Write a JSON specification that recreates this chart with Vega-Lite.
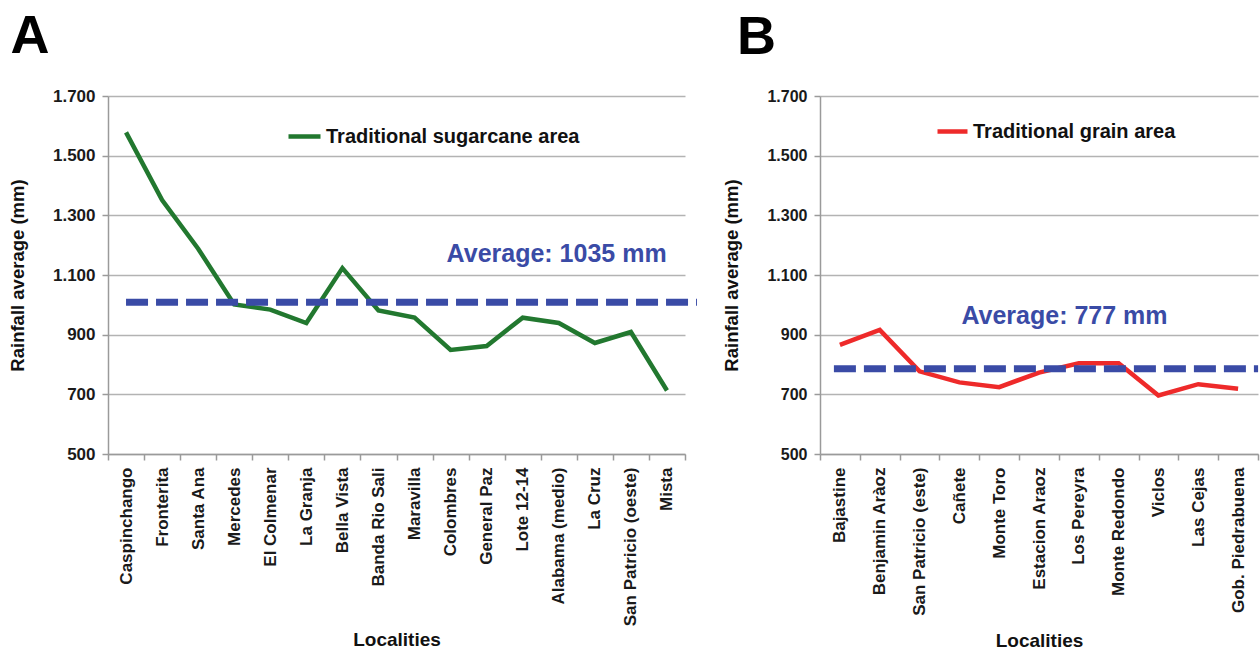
{
  "$schema": "https://vega.github.io/schema/vega-lite/v6.json",
  "padding": {"left": 8, "top": 10, "right": 0, "bottom": 0},
  "background": "white",
  "bounds": "flush",
  "spacing": 135,
  "datasets": {
    "sugar": [
      {"loc": "Caspinchango", "rain": 1578, "series": "Traditional sugarcane area"},
      {"loc": "Fronterita", "rain": 1351, "series": "Traditional sugarcane area"},
      {"loc": "Santa Ana", "rain": 1188, "series": "Traditional sugarcane area"},
      {"loc": "Mercedes", "rain": 1001, "series": "Traditional sugarcane area"},
      {"loc": "El Colmenar", "rain": 984, "series": "Traditional sugarcane area"},
      {"loc": "La Granja", "rain": 939, "series": "Traditional sugarcane area"},
      {"loc": "Bella Vista", "rain": 1123, "series": "Traditional sugarcane area"},
      {"loc": "Banda Rio Sali", "rain": 981, "series": "Traditional sugarcane area"},
      {"loc": "Maravilla", "rain": 957, "series": "Traditional sugarcane area"},
      {"loc": "Colombres", "rain": 849, "series": "Traditional sugarcane area"},
      {"loc": "General Paz", "rain": 862, "series": "Traditional sugarcane area"},
      {"loc": "Lote 12-14", "rain": 957, "series": "Traditional sugarcane area"},
      {"loc": "Alabama (medio)", "rain": 939, "series": "Traditional sugarcane area"},
      {"loc": "La Cruz", "rain": 872, "series": "Traditional sugarcane area"},
      {"loc": "San Patricio (oeste)", "rain": 909, "series": "Traditional sugarcane area"},
      {"loc": "Mista", "rain": 713, "series": "Traditional sugarcane area"}
    ],
    "grain": [
      {"loc": "Bajastine", "rain": 866, "series": "Traditional grain area"},
      {"loc": "Benjamin Aràoz", "rain": 916, "series": "Traditional grain area"},
      {"loc": "San Patricio (este)", "rain": 777, "series": "Traditional grain area"},
      {"loc": "Cañete", "rain": 740, "series": "Traditional grain area"},
      {"loc": "Monte Toro", "rain": 724, "series": "Traditional grain area"},
      {"loc": "Estacion Araoz", "rain": 773, "series": "Traditional grain area"},
      {"loc": "Los Pereyra", "rain": 804, "series": "Traditional grain area"},
      {"loc": "Monte Redondo", "rain": 804, "series": "Traditional grain area"},
      {"loc": "Viclos", "rain": 696, "series": "Traditional grain area"},
      {"loc": "Las Cejas", "rain": 734, "series": "Traditional grain area"},
      {"loc": "Gob. Piedrabuena", "rain": 719, "series": "Traditional grain area"}
    ],
    "avgA": [{"start": "Caspinchango", "end": "Mista", "avg": 1009, "label": "Average: 1035 mm", "pos": "Alabama (medio)", "ty": 1172}],
    "avgB": [{"start": "Bajastine", "end": "Gob. Piedrabuena", "avg": 786, "label": "Average: 777 mm", "pos": "Los Pereyra", "ty": 963}]
  },
  "config": {
    "font": "Liberation Sans",
    "view": {"stroke": null},
    "axisY": {
      "grid": true, "gridColor": "#b3b3b3", "gridWidth": 1.5,
      "domainColor": "#9a9a9a", "domainWidth": 1.5,
      "tickColor": "#9a9a9a", "tickSize": 6, "tickWidth": 1.5,
      "labelFontSize": 17, "labelFontWeight": "bold", "labelColor": "#1a1a1a", "labelPadding": 7,
      "titleFontSize": 18.5, "titleFontWeight": "bold", "titleColor": "#111111", "titlePadding": 25
    },
    "axisX": {
      "grid": false, "labelAngle": -90, "tickBand": "extent",
      "domainColor": "#9a9a9a", "domainWidth": 1.5,
      "tickColor": "#9a9a9a", "tickSize": 6, "tickWidth": 1.5,
      "labelFontSize": 17, "labelFontWeight": "bold", "labelColor": "#1a1a1a", "labelPadding": 7, "labelLimit": 0,
      "titleFontSize": 19, "titleFontWeight": "bold", "titleColor": "#111111", "titlePadding": 5
    },
    "title": {"fontSize": 54, "fontWeight": "bold", "color": "#000000", "anchor": "start", "frame": "bounds", "offset": 23}
  },
  "resolve": {"scale": {"x": "independent", "y": "independent", "color": "independent"}},
  "hconcat": [
    {
      "width": 577,
      "height": 358,
      "title": {"text": "A", "dx": 2},
      "layer": [
        {
          "data": {"name": "sugar"},
          "mark": {"type": "line", "strokeWidth": 4.5},
          "encoding": {
            "x": {"field": "loc", "type": "nominal", "bandPosition": 0.5, "title": "Localities",
              "scale": {"type": "band", "paddingInner": 0, "paddingOuter": 0,
                "domain": ["Caspinchango", "Fronterita", "Santa Ana", "Mercedes", "El Colmenar", "La Granja", "Bella Vista", "Banda Rio Sali", "Maravilla", "Colombres", "General Paz", "Lote 12-14", "Alabama (medio)", "La Cruz", "San Patricio (oeste)", "Mista"]}},
            "y": {"field": "rain", "type": "quantitative", "title": "Rainfall average (mm)",
              "axis": {"values": [500, 700, 900, 1100, 1300, 1500, 1700], "labelExpr": "replace(format(datum.value, ','), ',', '.')"},
              "scale": {"domain": [500, 1700], "nice": false, "zero": false}},
            "color": {"field": "series", "type": "nominal", "scale": {"range": ["#22782f"]},
              "legend": {"orient": "none", "legendX": 178, "legendY": 22, "title": null, "symbolType": "stroke", "symbolStrokeWidth": 4.5, "symbolSize": 1024, "labelFontSize": 20, "labelFontWeight": "bold", "labelColor": "#111111", "labelOffset": 3, "labelLimit": 0, "padding": 0}},
            "order": {"value": null}
          }
        },
        {
          "data": {"name": "avgA"},
          "mark": {"type": "rule", "strokeDash": [22, 8], "strokeWidth": 7, "color": "#3a4ba6", "x2Offset": 30},
          "encoding": {
            "x": {"field": "start", "type": "nominal", "bandPosition": 0.5, "title": "Localities"},
            "x2": {"field": "end"},
            "y": {"field": "avg", "type": "quantitative", "title": "Rainfall average (mm)"}
          }
        },
        {
          "data": {"name": "avgA"},
          "mark": {"type": "text", "fontSize": 25, "fontWeight": "bold", "color": "#3a4ba6", "align": "center", "baseline": "middle"},
          "encoding": {
            "x": {"field": "pos", "type": "nominal", "bandPosition": 0.44, "title": "Localities"},
            "y": {"field": "ty", "type": "quantitative", "title": "Rainfall average (mm)"},
            "text": {"field": "label"}
          }
        }
      ]
    },
    {
      "width": 438,
      "height": 358,
      "title": {"text": "B", "dx": 14},
      "layer": [
        {
          "data": {"name": "grain"},
          "mark": {"type": "line", "strokeWidth": 4.5},
          "encoding": {
            "x": {"field": "loc", "type": "nominal", "bandPosition": 0.5, "title": "Localities",
              "axis": {"titlePadding": 16},
              "scale": {"type": "band", "paddingInner": 0, "paddingOuter": 0,
                "domain": ["Bajastine", "Benjamin Aràoz", "San Patricio (este)", "Cañete", "Monte Toro", "Estacion Araoz", "Los Pereyra", "Monte Redondo", "Viclos", "Las Cejas", "Gob. Piedrabuena"]}},
            "y": {"field": "rain", "type": "quantitative", "title": "Rainfall average (mm)",
              "axis": {"labelFontSize": 16, "values": [500, 700, 900, 1100, 1300, 1500, 1700], "labelExpr": "replace(format(datum.value, ','), ',', '.')"},
              "scale": {"domain": [500, 1700], "nice": false, "zero": false}},
            "color": {"field": "series", "type": "nominal", "scale": {"range": ["#ee2a2a"]},
              "legend": {"orient": "none", "legendX": 115, "legendY": 18, "title": null, "symbolType": "stroke", "symbolStrokeWidth": 4.5, "symbolSize": 900, "labelFontSize": 20, "labelFontWeight": "bold", "labelColor": "#111111", "labelOffset": 3, "labelLimit": 0, "padding": 0}},
            "order": {"value": null}
          }
        },
        {
          "data": {"name": "avgB"},
          "mark": {"type": "rule", "strokeDash": [22, 8], "strokeWidth": 7, "color": "#3a4ba6", "xOffset": -6, "x2Offset": 20},
          "encoding": {
            "x": {"field": "start", "type": "nominal", "bandPosition": 0.5, "title": "Localities"},
            "x2": {"field": "end"},
            "y": {"field": "avg", "type": "quantitative", "title": "Rainfall average (mm)"}
          }
        },
        {
          "data": {"name": "avgB"},
          "mark": {"type": "text", "fontSize": 25, "fontWeight": "bold", "color": "#3a4ba6", "align": "center", "baseline": "middle"},
          "encoding": {
            "x": {"field": "pos", "type": "nominal", "bandPosition": 0.14, "title": "Localities"},
            "y": {"field": "ty", "type": "quantitative", "title": "Rainfall average (mm)"},
            "text": {"field": "label"}
          }
        }
      ]
    }
  ]
}
